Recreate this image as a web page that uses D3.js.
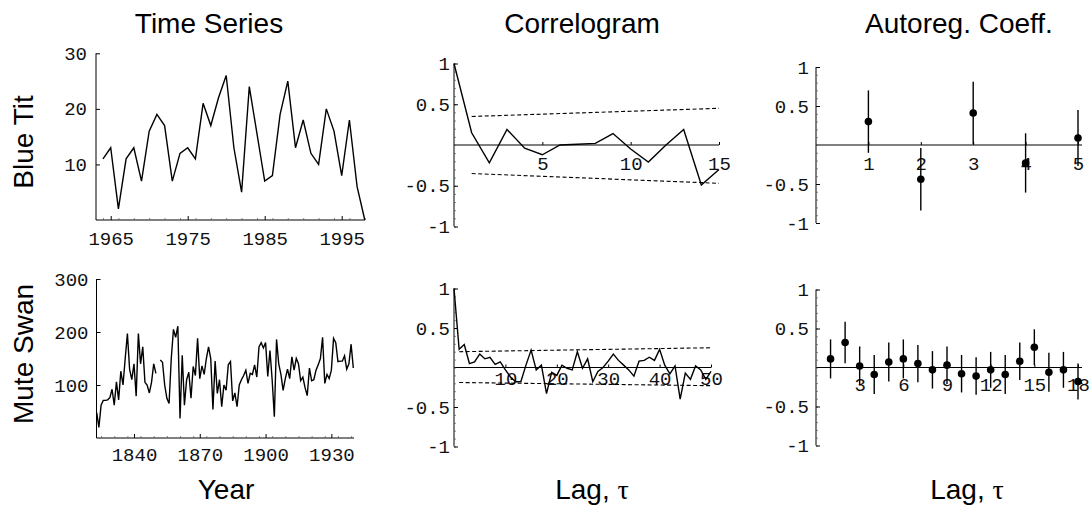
<!DOCTYPE html>
<html>
<head>
<meta charset="utf-8">
<script src="https://cdn.jsdelivr.net/npm/d3@7"></script>
<style>
  body { margin: 0; background: #fff; }
</style>
</head>
<body>
<div id="chart"></div>
<script>
// ---- data ----
const blueTitStart = 1964;
const blueTitCounts = [11, 13, 2, 11, 13, 7, 16, 19, 17, 7, 12, 13, 11, 21, 17, 22, 26, 13, 5, 24,
                       15.5, 7, 8, 19, 25, 13, 18, 12, 10, 20, 16, 8, 18, 6, 0];

const swanStart = 1823;
const swanCounts = [48, 20, 62, 71, 71, 72, 76, 92, 62, 106,
                    72, 126, 100, 150, 197, 130, 110, 140, 79, 197,
                    140, 172, 105, 100, 85, 105, 140, 122, null, 147,
                    143, 100, 75, 65, 150, 205, 190, 211, 37, 156,
                    62, 110, 124, 75, 135, 118, 188, 112, 136, 120,
                    150, 172, 150, 54, 145, 84, 110, 59, 100, 90,
                    138, 144, 70, 85, 59, 100, 110, 118, 128, 103,
                    122, 120, 138, 115, 172, 180, 170, 180, 116, 165,
                    110, 40, 186, 140, 120, 90, 112, 130, 112, 153,
                    128, 150, 140, 108, 115, 95, 80, 132, 108, 110,
                    128, 138, 150, 190, 103, 120, 112, 128, 188, 180,
                    144, 145, 145, 155, 130, 140, 177, 132];

// autocorrelation, lag 0..15 and 0..50
const blueTitAcf = [1, 0.15, -0.22, 0.19, -0.04, -0.12, 0, 0.01, 0.02, 0.14, -0.05, -0.21, 0, 0.19, -0.49, -0.30];
const swanAcf = [1, 0.23, 0.29, 0.05, 0.07, 0.17, 0.11, 0.13, 0.04, 0.07,
                 -0.03, -0.12, -0.18, -0.18, 0.03, 0.22, -0.03, 0.03, -0.33, -0.06,
                 -0.10, 0.03, -0.01, -0.03, 0.20, -0.01, 0.11, -0.18, -0.05, 0.00,
                 0.08, 0.17, 0.09, 0.03, -0.03, -0.11, 0.08, 0.09, 0.13, 0.09,
                 0.23, 0.03, -0.08, 0.02, -0.40, -0.07, -0.15, 0.02, -0.03, -0.15, -0.05];

// confidence bands: [lag, value] at both ends
const blueTitBandUpper = [[1, 0.35], [15, 0.45]];
const blueTitBandLower = [[1, -0.35], [15, -0.47]];
const swanBandUpper = [[1, 0.20], [50, 0.25]];
const swanBandLower = [[1, -0.19], [50, -0.23]];

// autoregression coefficients (lag 1..n) and error-bar half widths
const blueTitAr = [0.30, -0.44, 0.41, -0.23, 0.09];
const blueTitArErr = [0.40, 0.40, 0.40, 0.38, 0.36];
const swanAr = [0.11, 0.32, 0.02, -0.09, 0.07, 0.11, 0.05, -0.03, 0.03, -0.08,
                -0.11, -0.03, -0.09, 0.08, 0.26, -0.06, -0.03, -0.18];
const swanArErr = [0.25, 0.265, 0.25, 0.25, 0.25, 0.25, 0.24, 0.24, 0.24, 0.24,
                   0.24, 0.23, 0.25, 0.24, 0.23, 0.25, 0.23, 0.23];

// tick labels
const blueTitYearTicks = [1965, 1975, 1985, 1995];
const swanYearTicks = [1840, 1870, 1900, 1930];
const blueTitCountTicks = [10, 20, 30];
const swanCountTicks = [100, 200, 300];
const corrTicks = [-1, -0.5, 0.5, 1];
const blueTitAcfLagTicks = [5, 10, 15];
const swanAcfLagTicks = [10, 20, 30, 40, 50];
const blueTitArLagTicks = [1, 2, 3, 4, 5];
const swanArLagTicks = [3, 6, 9, 12, 15, 18];

// ---- drawing ----
const mono = '"Liberation Mono", "Courier New", monospace';
const sans = '"Liberation Sans", Arial, Helvetica, sans-serif';

const svg = d3.select('#chart').append('svg')
    .attr('width', 1091)
    .attr('height', 510);

function styleAxis(a) {
  a.select('.domain').remove();
  a.attr('font-family', mono).attr('font-size', 19);
  a.selectAll('text').attr('fill', '#111');
  a.selectAll('line').attr('stroke', '#000');
}

function minorTicks(g, scale, values, len, axisFn) {
  g.call(axisFn(scale).tickValues(values).tickSize(len).tickFormat(''))
   .call(a => a.select('.domain').remove())
   .selectAll('line').attr('stroke', '#555').attr('stroke-width', 0.7);
}

function tsPanel(o) {
  const x = d3.scaleLinear().domain(o.xDomain).range(o.xRange);
  const y = d3.scaleLinear().domain(o.yDomain).range(o.yRange);
  const g = svg.append('g');

  g.append('line')
   .attr('x1', o.axisX).attr('x2', o.axisX)
   .attr('y1', y(o.yDomain[0])).attr('y2', y(o.yDomain[1]))
   .attr('stroke', '#000');
  g.append('line')
   .attr('x1', o.axisX).attr('x2', o.axisEnd)
   .attr('y1', y(0)).attr('y2', y(0))
   .attr('stroke', '#000');

  minorTicks(g.append('g').attr('transform', `translate(0,${y(0)})`), x, o.xMinor, -2, d3.axisBottom);

  g.append('g')
   .attr('transform', `translate(0,${y(0)})`)
   .call(d3.axisBottom(x).tickValues(o.xTicks).tickSize(-4).tickSizeOuter(0)
           .tickPadding(o.xPad).tickFormat(d3.format('d')))
   .call(styleAxis);

  g.append('g')
   .attr('transform', `translate(${o.axisX},0)`)
   .call(d3.axisLeft(y).tickValues(o.yTicks).tickSize(-4).tickSizeOuter(0)
           .tickPadding(o.yPad).tickFormat(d3.format('d')))
   .call(styleAxis);

  const pts = o.values.map((v, i) => ({yr: o.start + i, v: v}));
  g.append('path')
   .datum(pts)
   .attr('d', d3.line().defined(d => d.v != null).x(d => x(d.yr)).y(d => y(d.v)))
   .attr('fill', 'none')
   .attr('stroke', '#000')
   .attr('stroke-width', 1.4)
   .attr('stroke-linejoin', 'miter');
}

function corrAxes(g, x, y, o) {
  g.append('line')
   .attr('x1', x(0)).attr('x2', x(0))
   .attr('y1', y(-1)).attr('y2', y(1))
   .attr('stroke', '#000');
  g.append('line')
   .attr('x1', x(0)).attr('x2', o.zeroEnd)
   .attr('y1', y(0)).attr('y2', y(0))
   .attr('stroke', '#000');

  minorTicks(g.append('g').attr('transform', `translate(${x(0)},0)`), y,
             d3.range(-10, 11).map(k => k / 10), -2, d3.axisLeft);

  g.append('g')
   .attr('transform', `translate(${x(0)},0)`)
   .call(d3.axisLeft(y).tickValues(corrTicks).tickSize(-4).tickSizeOuter(0)
           .tickPadding(o.yPad).tickFormat(d => String(d)))
   .call(styleAxis);

  g.append('g')
   .attr('transform', `translate(0,${y(0)})`)
   .call(d3.axisBottom(x).tickValues(o.lagTicks).tickSize(-3).tickSizeOuter(0)
           .tickPadding(o.lagPad).tickFormat(d3.format('d')))
   .call(styleAxis);
}

function acfPanel(o) {
  const x = d3.scaleLinear().domain([0, o.maxLag]).range(o.xRange);
  const y = d3.scaleLinear().domain([-1, 1]).range(o.yRange);
  const g = svg.append('g');
  corrAxes(g, x, y, {zeroEnd: x(o.maxLag), yPad: o.yPad, lagTicks: o.lagTicks, lagPad: o.lagPad});

  const seg = d3.line().x(d => x(d[0])).y(d => y(d[1]));
  [o.upper, o.lower].forEach(b => {
    g.append('path')
     .attr('d', seg(b))
     .attr('fill', 'none')
     .attr('stroke', '#000')
     .attr('stroke-width', 1.1)
     .attr('stroke-dasharray', '4,2.5');
  });

  g.append('path')
   .datum(o.values)
   .attr('d', d3.line().x((d, i) => x(i)).y(d => y(d)))
   .attr('fill', 'none')
   .attr('stroke', '#000')
   .attr('stroke-width', 1.4);
}

function arPanel(o) {
  const n = o.values.length;
  const x = d3.scaleLinear().domain([0, n]).range(o.xRange);
  const y = d3.scaleLinear().domain([-1, 1]).range(o.yRange);
  const g = svg.append('g');
  corrAxes(g, x, y, {zeroEnd: x(n) + 4, yPad: o.yPad, lagTicks: o.lagTicks, lagPad: o.lagPad});

  const pts = o.values.map((v, i) => ({lag: i + 1, v: v, e: o.errs[i]}));
  g.selectAll('line.err')
   .data(pts)
   .enter().append('line')
   .attr('class', 'err')
   .attr('x1', d => x(d.lag)).attr('x2', d => x(d.lag))
   .attr('y1', d => y(d.v - d.e)).attr('y2', d => y(d.v + d.e))
   .attr('stroke', '#000')
   .attr('stroke-width', 1.4);
  g.selectAll('circle')
   .data(pts)
   .enter().append('circle')
   .attr('cx', d => x(d.lag))
   .attr('cy', d => y(d.v))
   .attr('r', 3.8)
   .attr('fill', '#000');
}

// row 1: Blue Tit
tsPanel({xDomain: [1964, 1998], xRange: [103, 364.8], yDomain: [0, 30], yRange: [220, 53.3],
         axisX: 96, axisEnd: 365, xTicks: blueTitYearTicks, xMinor: d3.range(1964, 1999, 2),
         yTicks: blueTitCountTicks, xPad: 12, yPad: 9,
         values: blueTitCounts, start: blueTitStart});
acfPanel({maxLag: 15, xRange: [454, 719], yRange: [226.5, 63.5], yPad: 4,
          lagTicks: blueTitAcfLagTicks, lagPad: 12, values: blueTitAcf,
          upper: blueTitBandUpper, lower: blueTitBandLower});
arPanel({xRange: [816, 1078], yRange: [223, 67], yPad: 7,
         lagTicks: blueTitArLagTicks, lagPad: 12, values: blueTitAr, errs: blueTitArErr});

// row 2: Mute Swan
tsPanel({xDomain: [1823, 1940], xRange: [96.7, 353.3], yDomain: [0, 300], yRange: [438, 279],
         axisX: 96.5, axisEnd: 354, xTicks: swanYearTicks, xMinor: d3.range(1825, 1941, 6),
         yTicks: swanCountTicks, xPad: 10, yPad: 8,
         values: swanCounts, start: swanStart});
acfPanel({maxLag: 50, xRange: [454, 711], yRange: [446.5, 288.5], yPad: 4,
          lagTicks: swanAcfLagTicks, lagPad: 4, values: swanAcf,
          upper: swanBandUpper, lower: swanBandLower});
arPanel({xRange: [816, 1078], yRange: [445.5, 289.5], yPad: 7,
         lagTicks: swanArLagTicks, lagPad: 10, values: swanAr, errs: swanArErr});

// titles and labels
const bigText = (x, y, t) => svg.append('text')
    .attr('x', x).attr('y', y)
    .attr('text-anchor', 'middle')
    .attr('font-family', sans)
    .attr('font-size', 28)
    .attr('fill', '#000')
    .text(t);

bigText(209, 33, 'Time Series');
bigText(582, 33, 'Correlogram');
bigText(959, 33, 'Autoreg. Coeff.');
bigText(226, 499, 'Year');

[592, 967].forEach(cx => {
  const t = bigText(cx, 499, 'Lag, ');
  t.append('tspan').attr('font-family', '"Liberation Serif", "Times New Roman", serif').text('τ');
});

[['Blue Tit', 142], ['Mute Swan', 354]].forEach(([t, cy]) => {
  bigText(0, 0, t).attr('transform', `translate(33,${cy}) rotate(-90)`);
});
</script>
</body>
</html>
